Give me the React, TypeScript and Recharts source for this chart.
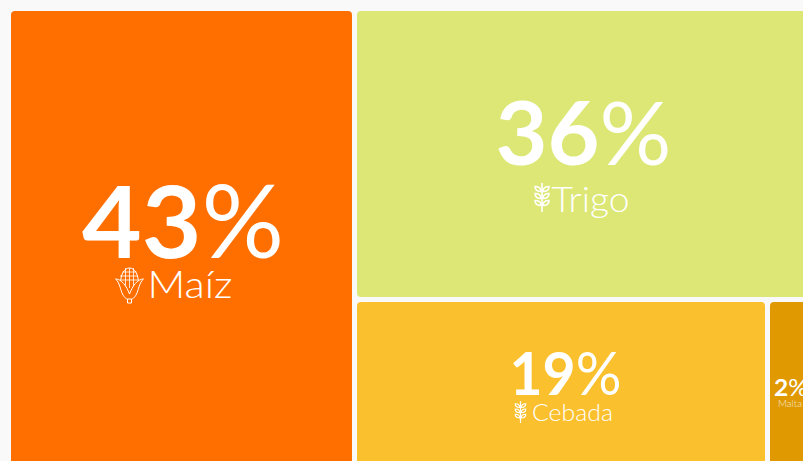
import { Treemap } from 'recharts';

const categories = ['Maíz', 'Trigo', 'Cebada', 'Malta'];
const shares = [42.7, 35.5, 19.4, 2.4];
const colors = ['#FF6F00', '#DCE775', '#FBC02D', '#E09900'];

const chartData = categories.map((name, i) => ({ name, value: shares[i], fill: colors[i] }));

// value/label text per tile, offsets are from the tile centre
const textStyles: Record<string, any> = {
  'Maíz': { size: 100, dx: 2, dy: 14.5, width: 202, labelSize: 38, labelX: -33.5, labelY: 54.5, labelWidth: 85, icon: 'corn', iconX: -51.5, iconY: 43, iconScale: 1 },
  'Trigo': { size: 88, dx: -2.5, dy: 11, width: 176, labelSize: 36, labelX: -34.5, labelY: 58, labelWidth: 78, icon: 'wheat', iconX: -44, iconY: 44, iconScale: 1 },
  'Cebada': { size: 60, dx: 5, dy: 6, width: 112, labelSize: 24, labelX: -28.5, labelY: 32, labelWidth: 81, icon: 'wheat', iconX: -40, iconY: 23.5, iconScale: 0.75 },
  'Malta': { size: 23, dx: -1.5, dy: 7, width: 34, labelSize: 9, labelX: -14.5, labelY: 18, labelWidth: 24 },
};

const WheatIcon = () => (
  <g fill="none" stroke="#fff" strokeWidth={1.6} strokeLinecap="round">
    <path d="M0 -14 V14" />
    <path d="M-1 -6 C-7 -6 -7 -10 -7 -11 C-3 -11 -1 -9 -1 -6 Z" />
    <path d="M1 -6 C7 -6 7 -10 7 -11 C3 -11 1 -9 1 -6 Z" />
    <path d="M-1 1 C-7 1 -7 -3 -7 -4 C-3 -4 -1 -2 -1 1 Z" />
    <path d="M1 1 C7 1 7 -3 7 -4 C3 -4 1 -2 1 1 Z" />
    <path d="M-1 8 C-7 8 -7 4 -7 3 C-3 3 -1 5 -1 8 Z" />
    <path d="M1 8 C7 8 7 4 7 3 C3 3 1 5 1 8 Z" />
  </g>
);

const CornIcon = () => (
  <g fill="none" stroke="#fff" strokeWidth={1}>
    <path d="M-9 -2 C-9 -12 -5 -18 0 -18 C5 -18 9 -12 9 -2" />
    <path d="M-9 -6 H9 M-9.500 -10 H8.500 M-7 -14 H7 M-4 -18 V0 M0 -18 V2 M4 -18 V0" strokeWidth={0.8} />
    <path d="M-14 -7 C-8 -7 -3 0 0 8 C3 0 8 -7 14 -7 C10 -4 9 4 7 8 C5 12 3 13 2 13 H-2 C-3 13 -5 12 -7 8 C-9 4 -10 -4 -14 -7 Z" fill="#FF6F00" />
    <path d="M-2 13 V17 H2 V13" />
  </g>
);

const Tile = (props: any) => {
  const { x, y, width, height, name, value, fill, depth } = props;
  if (depth !== 1) return null;
  const style = textStyles[name];
  const cx = x + width / 2;
  const cy = y + height / 2;
  return (
    <g>
      <rect x={x + 3} y={y + 3} width={width - 5} height={height - 5} rx={4} ry={4} fill={fill} stroke="none" />
      <text
        x={cx + style.dx}
        y={cy + style.dy}
        textAnchor="middle"
        fill="#fff"
        stroke="none"
        fontFamily="Lato"
        fontSize={style.size}
        textLength={style.width}
        lengthAdjust="spacingAndGlyphs"
      >
        <tspan fontWeight={700}>{Math.round(value)}</tspan>
        <tspan fontWeight={400}>%</tspan>
      </text>
      {style.icon && (
        <g transform={`translate(${cx + style.iconX} ${cy + style.iconY}) scale(${style.iconScale})`}>
          {style.icon === 'corn' ? <CornIcon /> : <WheatIcon />}
        </g>
      )}
      <text
        x={cx + style.labelX}
        y={cy + style.labelY}
        fill="#fff"
        stroke="none"
        fontFamily="Lato"
        fontWeight={300}
        fontSize={style.labelSize}
        textLength={style.labelWidth}
        lengthAdjust="spacingAndGlyphs"
        opacity={name === 'Malta' ? 0.8 : 1}
      >
        {name}
      </text>
    </g>
  );
};

const App = () => {
  return (
    <div style={{ position: 'fixed', left: 0, top: 0, width: 803, height: 461, overflow: 'hidden', background: '#f9f9f9' }}>
      <div style={{ position: 'absolute', left: 8, top: 8 }}>
        <Treemap
          width={810}
          height={470}
          data={chartData}
          dataKey="value"
          nameKey="name"
          aspectRatio={1}
          stroke="none"
          content={<Tile />}
          isAnimationActive={false}
        />
      </div>
    </div>
  );
};

export default App;
